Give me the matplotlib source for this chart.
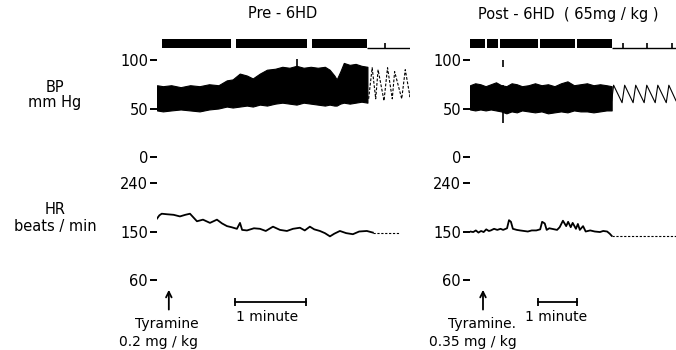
import matplotlib.pyplot as plt
import numpy as np

plt.rcParams['font.family'] = ['DejaVu Sans']

W, H = 676, 350

# ---- Pre-6HD (left) ----
pre_bp_t = [0, 5, 12, 20, 28, 36, 44, 52, 59, 64, 70, 76, 81, 87, 93, 100, 106, 112,
            118, 124, 130, 136, 142, 146, 150, 152, 155, 158, 163, 168, 173, 178]
pre_bp_sys = [74, 73, 74, 72, 74, 73, 75, 74, 79, 80, 86, 84, 81, 86, 90, 91, 93, 92,
              94, 92, 93, 92, 93, 90, 84, 80, 88, 97, 95, 96, 94, 93]
pre_bp_dia = [48, 47, 48, 49, 48, 47, 49, 50, 52, 51, 52, 53, 52, 54, 53, 55, 56, 55,
              54, 56, 55, 54, 53, 54, 53, 53, 55, 56, 55, 56, 57, 56]
pre_spike_t = 118
pre_spike = (93, 101)
pre_pulse_t = [179, 182, 185, 187, 192, 195, 199, 201, 207, 210, 214, 216]
pre_pulse_bp = [60, 92, 60, 90, 58, 92, 60, 88, 60, 90, 62, 86]

pre_hr_t = [0, 2, 4, 8.5, 14, 19.4, 24, 27.9, 33.8, 38.9, 44.8, 50.7, 55, 59.2, 63,
            67.6, 70.2, 72, 76.1, 82, 87.1, 92, 98.1, 104, 109.9, 115, 120.9, 125,
            129.3, 133, 137.8, 142, 146.3, 150, 154.7, 160, 165.7, 171, 177.5, 182.6]
pre_hr = [174, 180, 183, 182, 181, 178, 181, 183, 169, 172, 166, 172, 165, 160, 158,
          155, 166, 153, 152, 156, 155, 151, 159, 153, 151, 155, 157, 152, 159, 154,
          151, 147, 141, 146, 151, 147, 145, 150, 151, 148]
pre_hr_tail_t = [182.6, 205]
pre_hr_tail = [148, 148]

pre_blocks = [(4, 63), (67, 127), (131, 178)]
pre_line_end = 214
pre_marks = [193]
pre_arrow_t = 10
pre_minute = (66, 126)

# ---- Post-6HD (right) ----
post_bp_t = [0, 8, 16, 24, 32, 40, 48, 56, 64, 72, 80, 90, 100, 110, 120, 130, 140,
             150, 160, 170, 180, 190, 200, 210, 218]
post_bp_sys = [74, 76, 75, 73, 75, 77, 74, 73, 76, 75, 73, 74, 76, 74, 75, 73, 76,
               78, 74, 75, 76, 74, 75, 74, 73]
post_bp_dia = [49, 48, 49, 48, 49, 48, 47, 45, 47, 46, 48, 47, 46, 47, 45, 46, 47,
               46, 48, 47, 47, 46, 47, 48, 48]
post_spike_t = 51
post_spike = (35, 74)
post_spike_top = (93, 100)
post_pulse_t = [218, 221, 234, 238, 251, 255, 268, 272, 285, 289, 302, 306, 317]
post_pulse_bp = [58, 74, 56, 74, 56, 74, 56, 74, 56, 74, 56, 74, 58]

post_hr_t = [0, 5, 9, 13, 17, 21, 25, 29, 32, 37, 42, 47, 51, 57, 60, 63, 66, 72, 77,
             83, 89, 95, 102, 108, 111, 115, 118, 122, 126, 130, 134, 138, 143, 148,
             151, 155, 158, 163, 166, 169, 174, 178, 185, 192, 200, 205, 211, 215, 218]
post_hr = [150, 149, 152, 148, 151, 149, 154, 151, 152, 155, 153, 155, 153, 156, 171,
           168, 155, 153, 152, 151, 150, 152, 152, 154, 168, 165, 153, 156, 155, 154,
           153, 158, 170, 160, 168, 158, 166, 155, 164, 153, 160, 150, 152, 150, 149,
           151, 150, 146, 142]
post_hr_tail_t = [218, 317]
post_hr_tail = [142, 142]

post_blocks = [(0, 23), (26, 43), (46, 105), (108, 162), (165, 218)]
post_line_end = 317
post_marks = [235, 272, 311]
post_arrow_t = 20
post_minute = (105, 165)


def px_axes(fig, x0, y0, x1, y1):
    # box given in pixels, origin top-left
    ax = fig.add_axes([x0 / W, (H - y1) / H, (x1 - x0) / W, (y1 - y0) / H])
    for s in ax.spines.values():
        s.set_visible(False)
    ax.set_xticks([])
    ax.tick_params(axis='y', direction='out', length=5, width=1.4, pad=1.5,
                   labelsize=10.5, color='black')
    ax.patch.set_alpha(0)
    return ax


def draw_bp(ax, t, sys_, dia, spike_t, spike, pulse_t, pulse_bp, blocks, line_end, marks,
            tmax, pulse_ls):
    ax.set_xlim(0, tmax)
    ax.set_ylim(0, 125)
    ax.set_yticks([0, 50, 100])
    ax.fill_between(t, dia, sys_, color='black', lw=0.8, edgecolor='black')
    ax.vlines(spike_t, spike[0], spike[1], color='black', lw=1.2)
    ax.plot(pulse_t, pulse_bp, color='black', lw=0.8, ls=pulse_ls)
    # event marker bar
    ax.broken_barh([(a, b - a) for a, b in blocks], (112, 10), facecolor='black')
    ax.hlines(112, blocks[-1][1], line_end, color='black', lw=1)
    ax.vlines(marks, 112, 118, color='black', lw=1.2)


def draw_hr(ax, t, hr, tail_t, tail, arrow_t, minute, tmax, dose, dose_dx, tyr_label):
    ax.set_xlim(0, tmax)
    ax.set_ylim(-65, 240)
    ax.set_yticks([60, 150, 240])
    ax.plot(t, hr, color='black', lw=1.3)
    ax.plot(tail_t, tail, color='black', lw=0.8, ls=(0, (2, 1.5)))
    ax.annotate('', xy=(arrow_t, 47), xytext=(arrow_t, 0),
                arrowprops=dict(arrowstyle='->', lw=1.3, color='black',
                                mutation_scale=10), annotation_clip=False)
    ax.text(arrow_t - 1.5, -22, tyr_label, ha='center', va='center', fontsize=10)
    ax.text(arrow_t + dose_dx, -55, dose, ha='center', va='center', fontsize=10)
    ax.plot(minute, [19, 19], color='black', lw=1.3, marker='|', markersize=6,
            markeredgewidth=1.3, clip_on=False)
    ax.text(sum(minute) / 2 - 3, -8, '1 minute', ha='center', va='center', fontsize=10)


fig = plt.figure(figsize=(W / 100, H / 100), dpi=100)

ax1 = px_axes(fig, 157, 157 - 125 * 0.97, 410, 157)
draw_bp(ax1, pre_bp_t, pre_bp_sys, pre_bp_dia, pre_spike_t, pre_spike,
        pre_pulse_t, pre_pulse_bp, pre_blocks, pre_line_end, pre_marks, 214,
        (0, (2.5, 1.5)))

ax2 = px_axes(fig, 470, 157 - 125 * 0.97, 676, 157)
draw_bp(ax2, post_bp_t, post_bp_sys, post_bp_dia, post_spike_t, post_spike,
        post_pulse_t, post_pulse_bp, post_blocks, post_line_end, post_marks, 317, '-')
ax2.vlines(post_spike_t, post_spike_top[0], post_spike_top[1], color='black', lw=1.2)

hr_bottom = 183 + 305 * 0.539
ax3 = px_axes(fig, 157, 183, 410, hr_bottom)
draw_hr(ax3, pre_hr_t, pre_hr, pre_hr_tail_t, pre_hr_tail, pre_arrow_t, pre_minute,
        214, '0.2 mg / kg', -9, 'Tyramine')

ax4 = px_axes(fig, 470, 183, 676, hr_bottom)
draw_hr(ax4, post_hr_t, post_hr, post_hr_tail_t, post_hr_tail, post_arrow_t, post_minute,
        317, '0.35 mg / kg', -15, 'Tyramine.')

fig.text(283 / W, 1 - 14 / H, 'Pre - 6HD', ha='center', va='center', fontsize=10.5)
fig.text(568 / W, 1 - 14 / H, 'Post - 6HD  ( 65mg / kg )', ha='center', va='center',
         fontsize=10.5)

fig.text(55 / W, 1 - 88 / H, 'BP', ha='center', va='center', fontsize=10.5)
fig.text(55 / W, 1 - 103 / H, 'mm Hg', ha='center', va='center', fontsize=10.5)
fig.text(55 / W, 1 - 210 / H, 'HR', ha='center', va='center', fontsize=10.5)
fig.text(55 / W, 1 - 227 / H, 'beats / min', ha='center', va='center', fontsize=10.5)

fig.savefig('out.png', dpi=100)
